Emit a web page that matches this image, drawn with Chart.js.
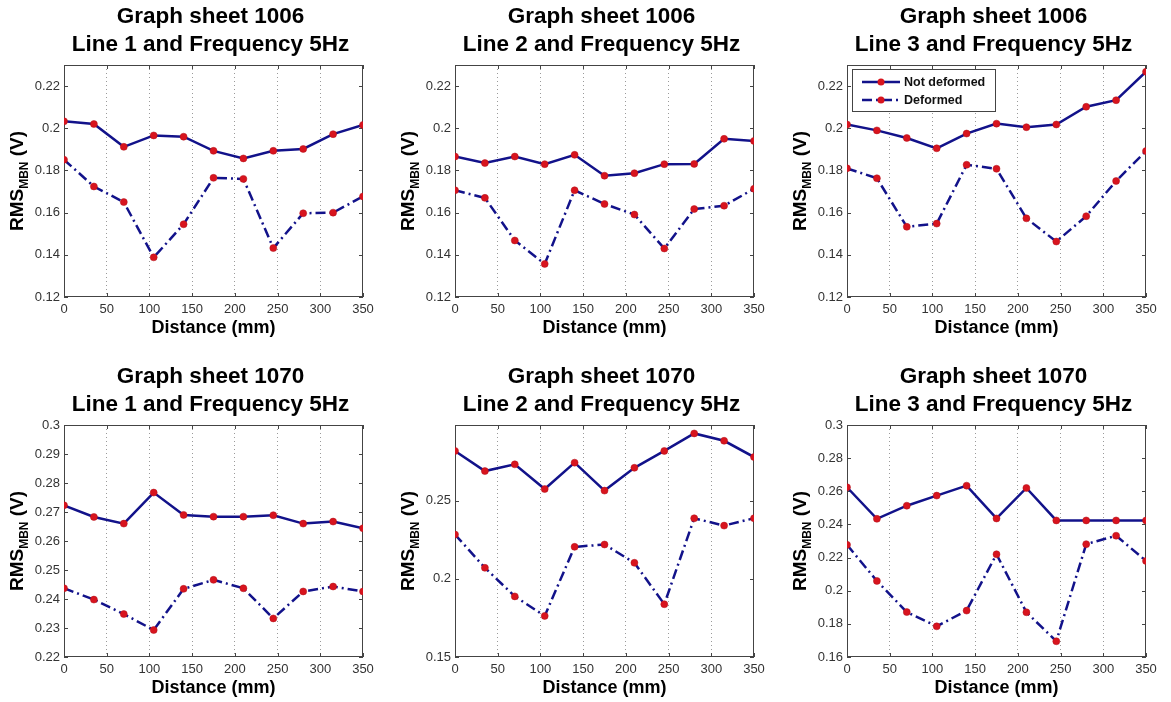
<!DOCTYPE html>
<html>
<head>
<meta charset="utf-8">
<script src="https://cdn.jsdelivr.net/npm/chart.js@4.4.0/dist/chart.umd.min.js"></script>
<style>
    html, body { margin: 0; padding: 0; background: #fff; overflow: hidden; }
    #wrap { position: relative; width: 1171px; height: 702px; }
    .panel { position: absolute; width: 385px; height: 340px; }
</style>
</head>
<body>
<div id="wrap">
    <div class="panel" style="left:0px;top:0px"><canvas id="c0" width="385" height="340"></canvas></div>
    <div class="panel" style="left:391px;top:0px"><canvas id="c1" width="385" height="340"></canvas></div>
    <div class="panel" style="left:783px;top:0px"><canvas id="c2" width="385" height="340"></canvas></div>
    <div class="panel" style="left:0px;top:360px"><canvas id="c3" width="385" height="340"></canvas></div>
    <div class="panel" style="left:391px;top:360px"><canvas id="c4" width="385" height="340"></canvas></div>
    <div class="panel" style="left:783px;top:360px"><canvas id="c5" width="385" height="340"></canvas></div>
</div>
<script>
// Du lieu doc tu hinh
const DISTANCE = [0, 35, 70, 105, 140, 175, 210, 245, 280, 315, 350]
const X_TICKS = [0, 50, 100, 150, 200, 250, 300, 350]

const S1006_L1_NOT = [0.2033, 0.2020, 0.1912, 0.1966, 0.1960, 0.1893, 0.1857, 0.1893, 0.1902, 0.1972, 0.2016]
const S1006_L1_DEF = [0.1851, 0.1724, 0.1650, 0.1388, 0.1545, 0.1765, 0.1760, 0.1432, 0.1597, 0.1600, 0.1677]
const S1006_L2_NOT = [0.1866, 0.1835, 0.1866, 0.1830, 0.1874, 0.1775, 0.1787, 0.1830, 0.1831, 0.1950, 0.1940]
const S1006_L2_DEF = [0.1706, 0.1670, 0.1468, 0.1357, 0.1706, 0.1641, 0.1591, 0.1430, 0.1617, 0.1633, 0.1713]
const S1006_L3_NOT = [0.2018, 0.1990, 0.1954, 0.1905, 0.1975, 0.2022, 0.2005, 0.2018, 0.2102, 0.2133, 0.2268]
const S1006_L3_DEF = [0.1810, 0.1763, 0.1533, 0.1548, 0.1827, 0.1808, 0.1573, 0.1463, 0.1583, 0.1750, 0.1892]

const S1070_L1_NOT = [0.2723, 0.2683, 0.2660, 0.2767, 0.2690, 0.2684, 0.2684, 0.2689, 0.2660, 0.2667, 0.2644]
const S1070_L1_DEF = [0.2437, 0.2398, 0.2348, 0.2293, 0.2435, 0.2466, 0.2437, 0.2333, 0.2426, 0.2443, 0.2426]
const S1070_L2_NOT = [0.2819, 0.2690, 0.2733, 0.2575, 0.2744, 0.2565, 0.2711, 0.2819, 0.2931, 0.2884, 0.2780]
const S1070_L2_DEF = [0.2284, 0.2071, 0.1888, 0.1763, 0.2205, 0.2220, 0.2103, 0.1838, 0.2388, 0.2341, 0.2388]
const S1070_L3_NOT = [0.2624, 0.2434, 0.2513, 0.2574, 0.2634, 0.2436, 0.2620, 0.2424, 0.2424, 0.2424, 0.2424]
const S1070_L3_DEF = [0.2277, 0.2059, 0.1871, 0.1785, 0.1880, 0.2220, 0.1870, 0.1695, 0.2281, 0.2332, 0.2180]

const Y_TICKS_1006 = [0.12, 0.14, 0.16, 0.18, 0.2, 0.22]
const Y_TICKS_1070_L1 = [0.22, 0.23, 0.24, 0.25, 0.26, 0.27, 0.28, 0.29, 0.3]
const Y_TICKS_1070_L2 = [0.15, 0.2, 0.25]
const Y_TICKS_1070_L3 = [0.16, 0.18, 0.2, 0.22, 0.24, 0.26, 0.28, 0.3]

const FONT = '"Liberation Sans", Arial, Helvetica, sans-serif'
const LINE_COLOR = '#12128a'
const MARKER_COLOR = '#d8141e'

let gPanels = [
    { id: 'c0', title: ['Graph sheet 1006', 'Line 1 and Frequency 5Hz'], notDef: S1006_L1_NOT, def: S1006_L1_DEF, yMin: 0.12, yMax: 0.23, yTicks: Y_TICKS_1006, legend: false },
    { id: 'c1', title: ['Graph sheet 1006', 'Line 2 and Frequency 5Hz'], notDef: S1006_L2_NOT, def: S1006_L2_DEF, yMin: 0.12, yMax: 0.23, yTicks: Y_TICKS_1006, legend: false },
    { id: 'c2', title: ['Graph sheet 1006', 'Line 3 and Frequency 5Hz'], notDef: S1006_L3_NOT, def: S1006_L3_DEF, yMin: 0.12, yMax: 0.23, yTicks: Y_TICKS_1006, legend: true },
    { id: 'c3', title: ['Graph sheet 1070', 'Line 1 and Frequency 5Hz'], notDef: S1070_L1_NOT, def: S1070_L1_DEF, yMin: 0.22, yMax: 0.30, yTicks: Y_TICKS_1070_L1, legend: false },
    { id: 'c4', title: ['Graph sheet 1070', 'Line 2 and Frequency 5Hz'], notDef: S1070_L2_NOT, def: S1070_L2_DEF, yMin: 0.15, yMax: 0.2985, yTicks: Y_TICKS_1070_L2, legend: false },
    { id: 'c5', title: ['Graph sheet 1070', 'Line 3 and Frequency 5Hz'], notDef: S1070_L3_NOT, def: S1070_L3_DEF, yMin: 0.16, yMax: 0.30, yTicks: Y_TICKS_1070_L3, legend: false }
]

function toPoints(values) {
    return DISTANCE.map((d, i) => ({ x: d, y: values[i] }))
}

// Khung truc kieu matlab: vien + vach chia huong vao trong
const matlabFrame = {
    id: 'matlabFrame',
    beforeDatasetsDraw(chart) {
        const { ctx, chartArea: a, scales } = chart
        ctx.save()
        ctx.strokeStyle = '#444'
        ctx.lineWidth = 1
        ctx.strokeRect(a.left + 0.5, a.top + 0.5, a.right - a.left - 1, a.bottom - a.top - 1)
        const tl = 4
        ctx.beginPath()
        scales.x.ticks.forEach(t => {
            const px = Math.round(scales.x.getPixelForValue(t.value)) + 0.5
            ctx.moveTo(px, a.bottom); ctx.lineTo(px, a.bottom - tl)
            ctx.moveTo(px, a.top); ctx.lineTo(px, a.top + tl)
        })
        scales.y.ticks.forEach(t => {
            const py = Math.round(scales.y.getPixelForValue(t.value)) + 0.5
            ctx.moveTo(a.left, py); ctx.lineTo(a.left + tl, py)
            ctx.moveTo(a.right, py); ctx.lineTo(a.right - tl, py)
        })
        ctx.stroke()
        ctx.restore()
    },
    afterDatasetsDraw(chart, args, opts) {
        if (!opts.legend) return
        const { ctx, chartArea: a } = chart
        const x0 = a.left + 5, y0 = a.top + 4, w = 143, h = 42
        ctx.save()
        ctx.fillStyle = '#fff'
        ctx.fillRect(x0, y0, w, h)
        ctx.strokeStyle = '#444'
        ctx.lineWidth = 1
        ctx.strokeRect(x0 + 0.5, y0 + 0.5, w, h)
        chart.data.datasets.forEach((ds, i) => {
            const ly = y0 + 13 + i * 18
            ctx.strokeStyle = ds.borderColor
            ctx.lineWidth = ds.borderWidth
            ctx.setLineDash(ds.borderDash || [])
            ctx.beginPath()
            ctx.moveTo(x0 + 10, ly); ctx.lineTo(x0 + 48, ly)
            ctx.stroke()
            ctx.setLineDash([])
            ctx.fillStyle = MARKER_COLOR
            ctx.beginPath()
            ctx.arc(x0 + 29, ly, 3.5, 0, Math.PI * 2)
            ctx.fill()
            ctx.fillStyle = '#111'
            ctx.font = 'bold 12.5px ' + FONT
            ctx.textBaseline = 'middle'
            ctx.fillText(ds.label, x0 + 52, ly + 1)
        })
        ctx.restore()
    },
    afterDraw(chart, args, opts) {
        const { ctx, chartArea: a } = chart
        const cx = (a.left + a.right) / 2
        ctx.save()
        ctx.fillStyle = '#000'
        ctx.textAlign = 'center'
        ctx.textBaseline = 'alphabetic'
        ctx.font = 'bold 22.5px ' + FONT
        ctx.fillText(opts.title[0], cx - 3, a.top - 42)
        ctx.fillText(opts.title[1], cx - 3, a.top - 14)
        ctx.font = 'bold 18px ' + FONT
        ctx.fillText('Distance (mm)', cx, a.bottom + 36)

        // nhan truc y co chi so duoi
        const big = 'bold 19px ' + FONT
        const small = 'bold 12px ' + FONT
        ctx.textAlign = 'left'
        ctx.font = big
        const w1 = ctx.measureText('RMS').width
        const w3 = ctx.measureText(' (V)').width
        ctx.font = small
        const w2 = ctx.measureText('MBN').width
        const total = w1 + w2 + w3
        const cy = (a.top + a.bottom) / 2
        ctx.translate(23, cy + total / 2)
        ctx.rotate(-Math.PI / 2)
        ctx.font = big
        ctx.fillText('RMS', 0, 0)
        ctx.font = small
        ctx.fillText('MBN', w1, 5)
        ctx.font = big
        ctx.fillText(' (V)', w1 + w2, 0)
        ctx.restore()
    }
}

function setChart(panel) {
    const ctx = document.getElementById(panel.id).getContext('2d')
    return new Chart(ctx, {
        type: 'line',
        data: {
            datasets: [{
                label: 'Not deformed',
                data: toPoints(panel.notDef),
                borderColor: LINE_COLOR,
                borderWidth: 2.5,
                pointRadius: 3.5,
                pointBackgroundColor: MARKER_COLOR,
                pointBorderColor: '#b0101a',
                pointBorderWidth: 0.5,
                tension: 0
            }, {
                label: 'Deformed',
                data: toPoints(panel.def),
                borderColor: LINE_COLOR,
                borderWidth: 2.5,
                borderDash: [10, 4, 2, 4],
                pointRadius: 3.5,
                pointBackgroundColor: MARKER_COLOR,
                pointBorderColor: '#b0101a',
                pointBorderWidth: 0.5,
                tension: 0
            }]
        },
        options: {
            responsive: false,
            animation: false,
            events: [],
            layout: { padding: { top: 65, right: 22, left: 0, bottom: 0 } },
            plugins: {
                legend: { display: false },
                tooltip: { enabled: false },
                title: { display: false },
                matlabFrame: { title: panel.title, legend: panel.legend }
            },
            scales: {
                x: {
                    type: 'linear',
                    min: 0,
                    max: 350,
                    afterBuildTicks: s => { s.ticks = X_TICKS.map(v => ({ value: v })) },
                    afterFit: s => { s.height = 43 },
                    ticks: {
                        font: { family: FONT, size: 13 },
                        color: '#333',
                        padding: 5,
                        maxRotation: 0,
                        callback: v => String(v)
                    },
                    grid: {
                        drawTicks: false,
                        lineWidth: 1,
                        color: c => (c.tick && (c.tick.value === 0 || c.tick.value === 350)) ? 'rgba(0,0,0,0)' : '#9a9a9a'
                    },
                    border: { display: false, dash: [1, 3] }
                },
                y: {
                    min: panel.yMin,
                    max: panel.yMax,
                    afterBuildTicks: s => { s.ticks = panel.yTicks.map(v => ({ value: v })) },
                    afterFit: s => { s.width = 64 },
                    ticks: {
                        font: { family: FONT, size: 13 },
                        color: '#333',
                        padding: 4,
                        callback: v => String(+v.toFixed(3))
                    },
                    grid: { display: false, drawTicks: false },
                    border: { display: false }
                }
            }
        },
        plugins: [matlabFrame]
    })
}

gPanels.forEach(p => setChart(p))
</script>
</body>
</html>
